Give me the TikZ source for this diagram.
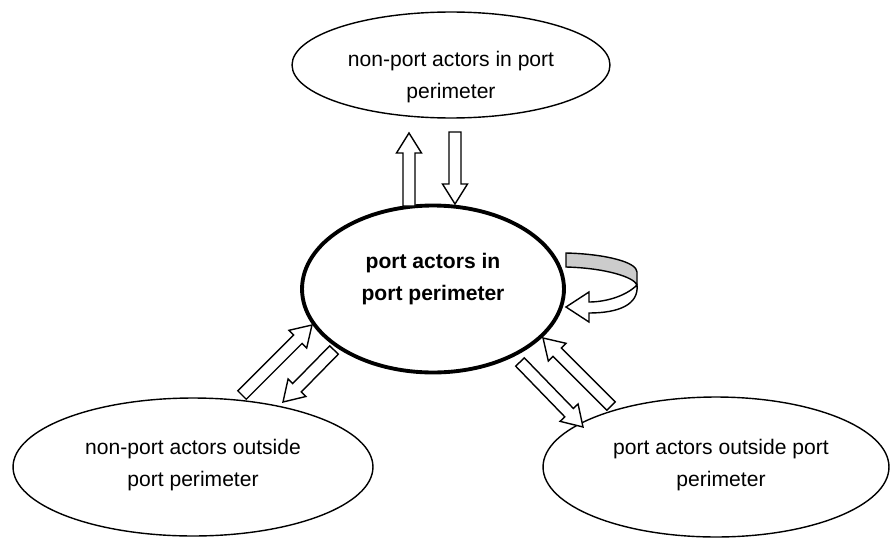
\documentclass[tikz,border=0pt]{standalone}
\usepackage{fontspec}
\setmainfont{Liberation Sans}
\usetikzlibrary{shapes.geometric,calc}
\newcommand{\fatshaft}{0.12cm}
\newcommand{\fatwing}{0.25cm}
\newcommand{\fathead}{0.4cm}
\tikzset{
  actor/.style={ellipse,draw,line width=0.8pt,inner sep=0pt},
  actortext/.style={align=center,font=\fontsize{12}{18.7}\selectfont},
  fat/.style={draw,fill=white,line width=0.8pt,line join=miter,
    to path={($(\tikztostart)!\fatshaft!90:(\tikztotarget)$)
      -- ($(\tikztotarget)!\fathead!(\tikztostart)!\fatshaft!-90:(\tikztostart)$)
      -- ($(\tikztotarget)!\fathead!(\tikztostart)!\fatwing!-90:(\tikztostart)$)
      -- (\tikztotarget)
      -- ($(\tikztotarget)!\fathead!(\tikztostart)!\fatwing!90:(\tikztostart)$)
      -- ($(\tikztotarget)!\fathead!(\tikztostart)!\fatshaft!90:(\tikztostart)$)
      -- ($(\tikztostart)!\fatshaft!-90:(\tikztotarget)$) -- cycle}}
}
\begin{document}
\begin{tikzpicture}[x=0.02cm,y=-0.02cm]
    \useasboundingbox (0,0) rectangle (891,537);
    % the four groups of actors
    \node[actor,minimum width=6.36cm,minimum height=2.12cm] (inside) at (451,65) {};
    \node[actor,line width=2.2pt,minimum width=5.24cm,minimum height=3.34cm] (core) at (433,289) {};
    \node[actor,minimum width=7.2cm,minimum height=2.76cm] (nonport) at (193,467) {};
    \node[actor,minimum width=6.92cm,minimum height=2.8cm] (port) at (716,467) {};
    \node[actortext] (inside-t) at (451,77) {non-port actors in port\\perimeter};
    \node[actortext,font=\fontsize{12}{18.7}\selectfont\bfseries] (core-t) at (433,279) {port actors in\\port perimeter};
    \node[actortext] (nonport-t) at (193,465) {non-port actors outside\\port perimeter};
    \node[actortext] (port-t) at (721,465) {port actors outside port\\perimeter};
    % arrow ends
    \coordinate (up-s) at (409,206);
    \coordinate (up-t) at (409,133);
    \coordinate (down-s) at (455,132);
    \coordinate (down-t) at (455,204);
    \coordinate (np-out-s) at (242,395);
    \coordinate (np-out-t) at (312,325);
    \coordinate (np-in-s) at (334,350);
    \coordinate (np-in-t) at (283,402);
    \coordinate (p-out-s) at (520,362);
    \coordinate (p-out-t) at (583,427);
    \coordinate (p-in-s) at (611,406);
    \coordinate (p-in-t) at (543,338);
    \draw[fat] (up-s) to (up-t);
    \draw[fat] (down-s) to (down-t);
    \draw[fat] (np-out-s) to (np-out-t);
    \draw[fat] (np-in-s) to (np-in-t);
    \draw[fat] (p-out-s) to (p-out-t);
    \draw[fat] (p-in-s) to (p-in-t);
    % loop back into the core
    \draw[fill=gray!40,line width=0.8pt] (566,253) .. controls (605,254) and (637,262) .. (637,272)
        -- (637,285) .. controls (634,277) and (605,268) .. (566,267) -- cycle;
    \draw[fill=white,line width=0.8pt,line join=miter] (637,285) .. controls (626,296) and (606,302) .. (589,302)
        -- (589,292) -- (566,307) -- (589,322) -- (589,313)
        .. controls (618,313) and (639,305) .. (637,285) -- cycle;
\end{tikzpicture}
\end{document}
